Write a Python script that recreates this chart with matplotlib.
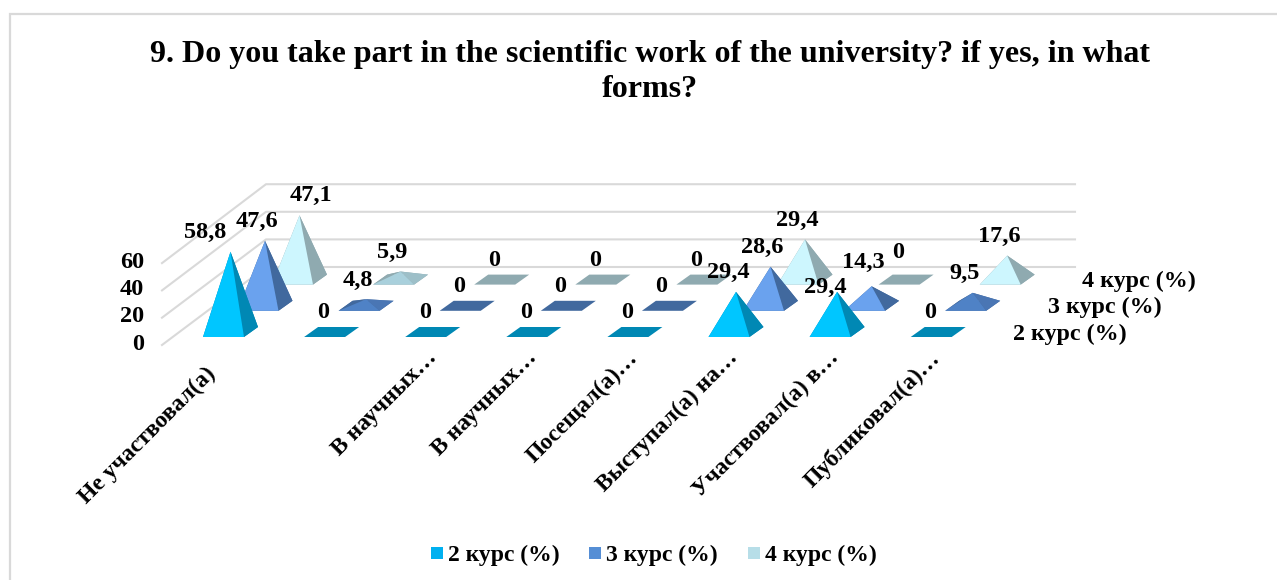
import matplotlib
matplotlib.use("Agg")
import matplotlib.pyplot as plt
from matplotlib.patches import Polygon, Rectangle

plt.rcParams['font.family'] = ['Liberation Serif', 'DejaVu Serif']
plt.rcParams['font.weight'] = 'bold'

# Data
title = "9. Do you take part in the scientific work of the university? if yes, in what\nforms?"
categories = ["Не участвовал(а)", "", "В научных…", "В научных…", "Посещал(а)…",
              "Выступал(а) на…", "Участвовал(а) в…", "Публиковал(а)…"]
series_names = ["2 курс (%)", "3 курс (%)", "4 курс (%)"]
course_2 = [58.8, 0, 0, 0, 0, 29.4, 29.4, 0]
course_3 = [47.6, 4.8, 0, 0, 0, 28.6, 14.3, 9.5]
course_4 = [47.1, 5.9, 0, 0, 0, 29.4, 0, 17.6]
values = [course_2, course_3, course_4]
y_ticks = [0, 20, 40, 60]

# Colours per series; low pyramids are shaded differently in the original
front_colors = ['#00C6FF', '#6AA2EE', '#CDF6FE']
side_colors = ['#0088B4', '#41699E', '#8FAAB0']
low_front_colors = ['#00C6FF', '#4F82C6', '#A9D0DC']
low_side_colors = ['#0088B4', '#4A76B4', '#9DBFC8']
legend_colors = ['#00B0F0', '#558ED5', '#B7DEE8']
grid_color = '#D9D9D9'

# Oblique projection, all in pixels of the figure
origin_x, origin_y = 203, 337
cat_step = 101.1
ser_dx, ser_dy = 34.5, -26.2
base_w = 41
base_dx, base_dy = 14, -10
px_per_unit = 1.365


def project(cat, ser, val=0):
    return origin_x + cat * cat_step + ser * ser_dx, origin_y + ser * ser_dy - val * px_per_unit


fig = plt.figure(figsize=(12.77, 5.8), dpi=100)
ax = fig.add_axes([0, 0, 1, 1])
ax.set_xlim(0, 1277)
ax.set_ylim(580, 0)
ax.axis('off')

# Chart frame
ax.plot([10, 10, 1277], [580, 14, 14], color=grid_color, lw=1.6, solid_joinstyle='miter')

# Walls and gridlines
for t in y_ticks:
    fy = 345 - t * 1.365
    by = 267 - t * 1.38
    ax.plot([162, 266, 1075], [fy, by, by], color=grid_color, lw=1.5, zorder=1)
    ax.text(144, fy - 1, str(t), ha='right', va='center', fontsize=17.5)

# Pyramids, back row first
for s in [2, 1, 0]:
    for c, v in enumerate(values[s]):
        fl = project(c, s)
        fr = (fl[0] + base_w, fl[1])
        br = (fr[0] + base_dx, fr[1] + base_dy)
        bl = (fl[0] + base_dx, fl[1] + base_dy)
        cx = (fl[0] + br[0]) / 2
        cy = (fl[1] + br[1]) / 2
        apex = (cx, cy - v * px_per_unit)
        z = 3 + (2 - s)
        low = v < 10
        front = low_front_colors[s] if low else front_colors[s]
        side = low_side_colors[s] if low else side_colors[s]
        ax.add_patch(Polygon([fl, fr, br, bl], fc=side_colors[s], ec='none', zorder=z))
        if v > 0:
            ax.add_patch(Polygon([bl, br, apex], fc=side_colors[s], ec='none', zorder=z))
            ax.add_patch(Polygon([fl, bl, apex], fc=side_colors[s], ec='none', zorder=z))
            ax.add_patch(Polygon([fr, br, apex], fc=side, ec='none', zorder=z))
            ax.add_patch(Polygon([fl, fr, apex], fc=front, ec='none', zorder=z))

# Data labels, moved by hand in a few places like the original
label_nudge = {(0, 0): (-25, -19), (2, 0): (11, -20), (0, 6): (-12, -4),
               (1, 6): (-8, -24), (2, 6): (-8, -27)}
for s in range(3):
    for c, v in enumerate(values[s]):
        fl = project(c, s)
        cx = fl[0] + (base_w + base_dx) / 2
        cy = fl[1] + base_dy / 2 - v * px_per_unit
        dx, dy = label_nudge.get((s, c), (-8, -19))
        ax.text(cx + dx, cy + dy, str(v).replace('.', ',').removesuffix(',0'),
                ha='center', va='center', fontsize=17.5, zorder=10)

# Category labels, the first one sits a little lower
for c, name in enumerate(categories):
    fl = project(c, 0)
    lx, ly = fl[0] + 22 - c * 0.6, 347
    if c == 0:
        lx, ly = lx - 20, ly + 16
    ax.text(lx, ly, name, rotation=45, rotation_mode='anchor',
            ha='right', va='top', fontsize=17, zorder=10)

# Series axis labels
for s, name in enumerate(series_names):
    ax.text(1013 + s * 34.5, 334 - s * 26.5, name, ha='left', va='center', fontsize=17.3)

# Legend
legend_x = [431, 589, 748]
for s, name in enumerate(series_names):
    ax.add_patch(Rectangle((legend_x[s], 547), 12, 12, fc=legend_colors[s], ec='none'))
    ax.text(legend_x[s] + 17, 555, name, ha='left', va='center', fontsize=17)

ax.text(650, 72, title, ha='center', va='center', fontsize=23, linespacing=1.3)

fig.savefig('out.png', dpi=100)
